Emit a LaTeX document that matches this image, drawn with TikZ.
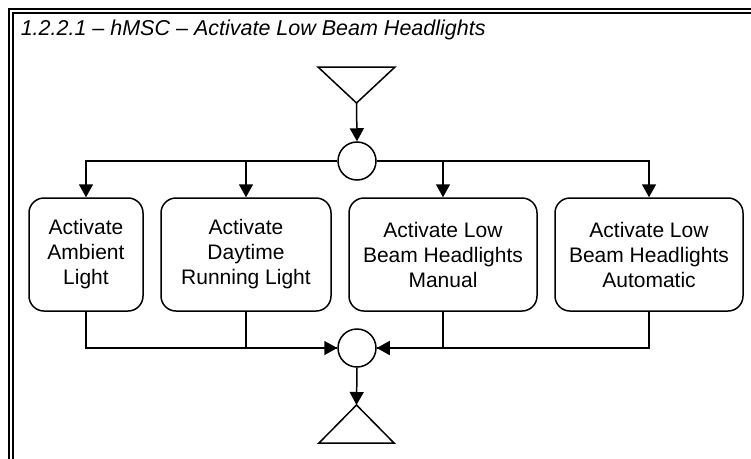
\documentclass[tikz,border=0pt]{standalone}
\usepackage{fontspec}
\setmainfont{Liberation Sans}
\usetikzlibrary{arrows.meta}
\tikzset{
  boxnode/.style={draw, rounded corners=15pt, inner sep=0pt, align=center,
    minimum height=113pt, font=\fontsize{21}{25}\selectfont},
  junction/.style={draw, circle, inner sep=0pt, minimum size=38pt},
  arr/.style={-{Triangle[length=13pt,width=14pt]}},
  framelines/.style={line width=2pt}
}
\begin{document}
\begin{tikzpicture}[x=1pt,y=-1pt,line width=1.5pt]
\useasboundingbox (0,0) rectangle (751,458);
\clip (0,0) rectangle (751,458);
% frame
\draw[framelines] (8.5,470) -- (8.5,8.5) -- (770,8.5);
\draw[framelines] (13,470) -- (13,13) -- (770,13);
% title
\node[anchor=base west, inner sep=0pt, font=\fontsize{21.5}{25}\selectfont\itshape] (title) at (20,35) {1.2.2.1 – hMSC – Activate Low Beam Headlights};
% start triangle
\coordinate (t1apex) at (356.5,103);
\draw[line join=miter] (318,67) -- (395,67) -- (t1apex) -- cycle;
% junctions
\node[junction] (c1) at (357,161) {};
\node[junction] (c2) at (357,348) {};
% boxes
\node[boxnode, minimum width=114pt] (b1) at (86,254.5) {Activate\\Ambient\\Light};
\node[boxnode, minimum width=170pt] (b2) at (246,254.5) {Activate\\Daytime\\Running Light};
\node[boxnode, minimum width=188pt] (b3) at (443,254.5) {Activate Low\\Beam Headlights\\Manual};
\node[boxnode, minimum width=188pt] (b4) at (649,254.5) {Activate Low\\Beam Headlights\\Automatic};
% end triangle
\coordinate (t2apex) at (356.5,405);
\draw[line join=miter] (319,443) -- (394,443) -- (t2apex) -- cycle;
% connectors
\draw[arr] (t1apex) -- (c1.north);
\draw[arr] (c1.west) -| (b1.north);
\draw[arr] (c1.west) -| (b2.north);
\draw[arr] (c1.east) -| (b3.north);
\draw[arr] (c1.east) -| (b4.north);
\draw[arr] (b1.south) |- (c2.west);
\draw (b2.south) |- (c2.west);
\draw[arr] (b4.south) |- (c2.east);
\draw (b3.south) |- (c2.east);
\draw[arr] (c2.south) -- (t2apex);
\end{tikzpicture}
\end{document}
